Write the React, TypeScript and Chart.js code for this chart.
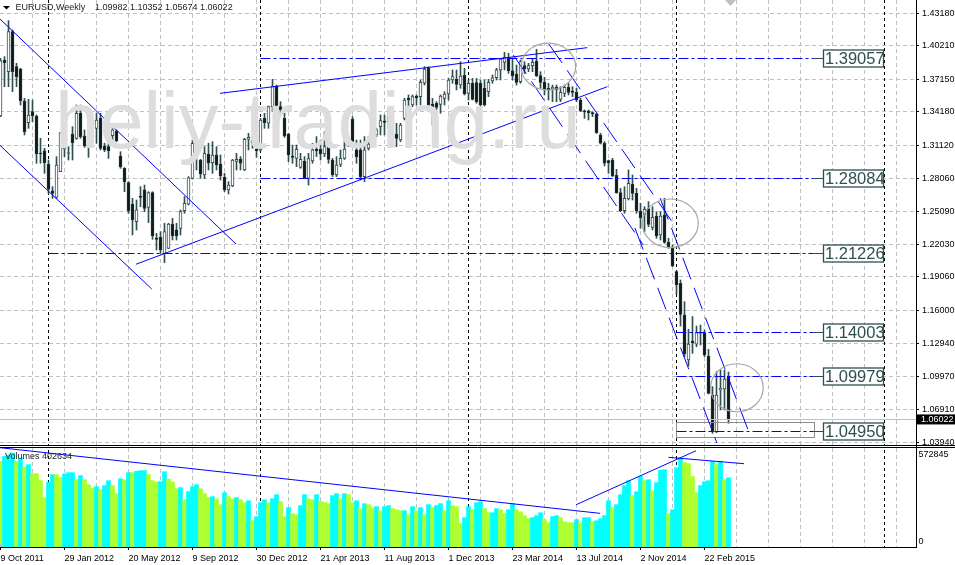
import React, { useEffect, useRef } from "react";
import Chart from "chart.js/auto";

const opens = [
  1.3379, 1.3891, 1.3784, 1.415, 1.383, 1.3809, 1.3516, 1.3318, 1.3418, 1.3379,
  1.304, 1.3061, 1.2939, 1.2695, 1.2634, 1.2869, 1.3077, 1.3037, 1.3211, 1.3174,
  1.3403, 1.3196, 1.3098, 1.319, 1.3266, 1.3357, 1.3104, 1.3098, 1.3199, 1.3241,
  1.3013, 1.29, 1.2769, 1.2573, 1.2412, 1.2647, 1.2702, 1.2543, 1.2677, 1.2262,
  1.2268, 1.2122, 1.2168, 1.239, 1.2336, 1.2351, 1.2512, 1.2573, 1.2808, 1.3043,
  1.2976, 1.2839, 1.3028, 1.2952, 1.3022, 1.2939, 1.2817, 1.2702, 1.2738, 1.2964,
  1.2985, 1.2885, 1.3165, 1.3159, 1.3074, 1.3068, 1.3357, 1.3312, 1.3464, 1.3653,
  1.3464, 1.3357, 1.3211, 1.3013, 1.2991, 1.2909, 1.2964, 1.2808, 1.2967, 1.3074,
  1.3074, 1.3031, 1.3098, 1.2976, 1.2839, 1.2936, 1.2991, 1.3129, 1.3348, 1.3068,
  1.3068, 1.2824, 1.3083, 1.3144, 1.3205, 1.3281, 1.3333, 1.3327, 1.3342, 1.3214,
  1.3159, 1.3357, 1.354, 1.3479, 1.3559, 1.3556, 1.3678, 1.3815, 1.3485, 1.3495,
  1.3485, 1.354, 1.358, 1.3708, 1.3717, 1.3662, 1.3751, 1.3586, 1.3678, 1.3684,
  1.3678, 1.3632, 1.3601, 1.3699, 1.3729, 1.38, 1.387, 1.3915, 1.3793, 1.3763,
  1.3693, 1.3839, 1.3809, 1.3839, 1.3882, 1.3748, 1.3687, 1.3632, 1.3626, 1.3641,
  1.3531, 1.3586, 1.3641, 1.3607, 1.3595, 1.3525, 1.3427, 1.3424, 1.3409, 1.3397,
  1.3205, 1.3129, 1.297, 1.2976, 1.2836, 1.2677, 1.2512, 1.2619, 1.2753, 1.2671,
  1.2509, 1.2479, 1.2531, 1.236, 1.2464, 1.229, 1.2473, 1.2223, 1.2168, 1.1954,
  1.1848, 1.1558, 1.1146, 1.132, 1.1292, 1.139, 1.139, 1.1183, 1.0826, 1.049,
  1.0872, 1.0881, 1.09982,
];
const highs = [
  1.3906, 1.3922, 1.4251, 1.4166, 1.3861, 1.3815, 1.354, 1.3531, 1.3525, 1.3388,
  1.3174, 1.3083, 1.2976, 1.2732, 1.3007, 1.3226, 1.322, 1.3098, 1.3281, 1.3479,
  1.3479, 1.3251, 1.3174, 1.3251, 1.3403, 1.3403, 1.3129, 1.3159, 1.3266, 1.3251,
  1.3052, 1.2906, 1.2778, 1.2625, 1.261, 1.2732, 1.2747, 1.2686, 1.2686, 1.2305,
  1.232, 1.2397, 1.2397, 1.2442, 1.2397, 1.2519, 1.2641, 1.2824, 1.3159, 1.3098,
  1.2982, 1.3098, 1.3129, 1.3144, 1.3098, 1.3022, 1.2854, 1.2778, 1.2982, 1.3037,
  1.3007, 1.3174, 1.322, 1.3174, 1.3159, 1.3357, 1.3403, 1.347, 1.3714, 1.3662,
  1.351, 1.3403, 1.322, 1.3113, 1.3113, 1.3037, 1.3007, 1.3037, 1.3129, 1.319,
  1.3159, 1.3235, 1.3205, 1.2991, 1.3007, 1.3068, 1.3159, 1.3159, 1.3373, 1.3159,
  1.3159, 1.319, 1.319, 1.3205, 1.3266, 1.3388, 1.3388, 1.3449, 1.3373, 1.3312,
  1.3312, 1.354, 1.3571, 1.3571, 1.3571, 1.3708, 1.383, 1.383, 1.354, 1.351,
  1.3571, 1.3601, 1.3723, 1.38, 1.38, 1.3876, 1.3815, 1.3708, 1.3723, 1.3723,
  1.3708, 1.3708, 1.3714, 1.3754, 1.3815, 1.3906, 1.3961, 1.3952, 1.3906, 1.3845,
  1.3891, 1.3876, 1.3861, 1.3906, 1.3989, 1.3784, 1.3732, 1.3678, 1.3662, 1.3662,
  1.3647, 1.3662, 1.3678, 1.3647, 1.3632, 1.354, 1.3434, 1.3434, 1.3418, 1.3403,
  1.322, 1.3144, 1.2976, 1.2991, 1.2891, 1.2717, 1.2732, 1.2885, 1.2839, 1.2717,
  1.258, 1.2549, 1.2595, 1.2549, 1.2503, 1.2503, 1.2625, 1.2259, 1.2198, 1.1963,
  1.1878, 1.168, 1.1427, 1.1543, 1.1457, 1.1466, 1.142, 1.1244, 1.0902, 1.1039,
  1.1055, 1.1055, 1.10352,
];
const lows = [
  1.3373, 1.3647, 1.3647, 1.3601, 1.3647, 1.3479, 1.3205, 1.3266, 1.3327, 1.2946,
  1.2946, 1.2854, 1.2671, 1.2625, 1.2625, 1.2869, 1.3007, 1.2976, 1.2976, 1.3165,
  1.3174, 1.3092, 1.3, 1.3129, 1.3129, 1.3068, 1.3052, 1.2991, 1.3144, 1.3144,
  1.29, 1.2686, 1.2488, 1.229, 1.2336, 1.2549, 1.2503, 1.2403, 1.225, 1.2153,
  1.2122, 1.2037, 1.2168, 1.2244, 1.2244, 1.229, 1.2488, 1.2564, 1.2802, 1.2885,
  1.2808, 1.2808, 1.2885, 1.2854, 1.2885, 1.2793, 1.2686, 1.2665, 1.2732, 1.2885,
  1.2885, 1.2878, 1.3068, 1.3083, 1.3, 1.3052, 1.3266, 1.3266, 1.3418, 1.3418,
  1.3403, 1.3183, 1.2961, 1.2946, 1.2915, 1.29, 1.2808, 1.2747, 1.2946, 1.3007,
  1.2976, 1.3007, 1.2946, 1.2824, 1.2824, 1.2915, 1.2982, 1.3098, 1.3098, 1.2946,
  1.2793, 1.2778, 1.3068, 1.3098, 1.319, 1.3205, 1.3205, 1.3266, 1.322, 1.3098,
  1.3144, 1.3342, 1.3464, 1.3464, 1.3479, 1.3479, 1.3662, 1.3464, 1.3296, 1.3434,
  1.3403, 1.3479, 1.3525, 1.3678, 1.3617, 1.3632, 1.3571, 1.3525, 1.3525, 1.3495,
  1.347, 1.347, 1.3556, 1.3678, 1.3708, 1.3708, 1.38, 1.3769, 1.3708, 1.3662,
  1.3678, 1.3769, 1.3784, 1.3784, 1.3739, 1.3632, 1.3571, 1.3525, 1.351, 1.351,
  1.351, 1.3556, 1.3571, 1.3556, 1.351, 1.3418, 1.3357, 1.3342, 1.3373, 1.322,
  1.3122, 1.2921, 1.2854, 1.2824, 1.2671, 1.2503, 1.2488, 1.261, 1.261, 1.2488,
  1.2351, 1.232, 1.2366, 1.2336, 1.2259, 1.2244, 1.2214, 1.2168, 1.2, 1.175,
  1.1457, 1.1177, 1.1091, 1.1207, 1.1268, 1.1283, 1.1177, 1.0835, 1.0475, 1.0481,
  1.0689, 1.0689, 1.05674,
];
const closes = [
  1.3885, 1.3867, 1.415, 1.3784, 1.3739, 1.3519, 1.3235, 1.3388, 1.3382, 1.3031,
  1.3034, 1.2952, 1.2708, 1.2671, 1.293, 1.3226, 1.3086, 1.3043, 1.3135, 1.3403,
  1.319, 1.3104, 1.3092, 1.3205, 1.3342, 1.3083, 1.3068, 1.3061, 1.3251, 1.3153,
  1.2915, 1.2778, 1.2512, 1.2427, 1.2519, 1.2634, 1.2534, 1.2677, 1.2281, 1.225,
  1.2153, 1.232, 1.239, 1.2284, 1.2281, 1.2503, 1.258, 1.2814, 1.3129, 1.3031,
  1.2848, 1.3037, 1.2946, 1.3022, 1.293, 1.283, 1.2702, 1.2747, 1.2976, 1.2982,
  1.2946, 1.3165, 1.3183, 1.3129, 1.3061, 1.3342, 1.3318, 1.3464, 1.3653, 1.3464,
  1.3434, 1.3196, 1.3022, 1.3, 1.3074, 1.2982, 1.2814, 1.2988, 1.3068, 1.3061,
  1.3031, 1.3098, 1.2982, 1.2839, 1.293, 1.2991, 1.3077, 1.3144, 1.3144, 1.3007,
  1.2824, 1.3068, 1.3122, 1.319, 1.3251, 1.3336, 1.3321, 1.3373, 1.3305, 1.3174,
  1.3296, 1.3525, 1.3528, 1.3556, 1.3546, 1.3687, 1.3809, 1.3479, 1.3464, 1.3458,
  1.3562, 1.358, 1.3708, 1.3739, 1.3668, 1.3745, 1.358, 1.3678, 1.3531, 1.351,
  1.3479, 1.3479, 1.3687, 1.3729, 1.38, 1.39, 1.3915, 1.3793, 1.3745, 1.3687,
  1.3876, 1.3809, 1.3839, 1.387, 1.3748, 1.3687, 1.3623, 1.3617, 1.3641, 1.3617,
  1.3595, 1.3641, 1.3595, 1.3595, 1.3525, 1.3427, 1.3415, 1.3409, 1.3397, 1.3226,
  1.3129, 1.2946, 1.2952, 1.283, 1.2677, 1.2512, 1.2625, 1.2763, 1.2671, 1.2512,
  1.2448, 1.2525, 1.2387, 1.2451, 1.2281, 1.2464, 1.2223, 1.2177, 1.2006, 1.1832,
  1.1564, 1.1201, 1.1292, 1.1305, 1.1396, 1.1399, 1.1192, 1.0841, 1.049, 1.0826,
  1.0887, 1.0972, 1.06022,
];

const volumes = [
  522000, 552000, 560000, 572845, 522000, 542000, 487000, 502000, 447000, 447000,
  404000, 299000, 394000, 441000, 441000, 424000, 445000, 453000, 453000, 410000,
  435000, 410000, 380000, 359000, 368000, 349000, 374000, 404000, 374000, 325000,
  416000, 410000, 453000, 453000, 461000, 465000, 465000, 441000, 404000, 396000,
  398000, 459000, 414000, 396000, 355000, 362000, 288000, 337000, 368000, 380000,
  355000, 325000, 301000, 307000, 294000, 258000, 331000, 307000, 294000, 301000,
  288000, 270000, 282000, 160000, 185000, 270000, 288000, 270000, 294000, 319000,
  276000, 185000, 240000, 203000, 197000, 252000, 319000, 294000, 288000, 319000,
  278000, 272000, 264000, 313000, 325000, 294000, 325000, 319000, 270000, 282000,
  234000, 264000, 258000, 234000, 246000, 221000, 246000, 252000, 234000, 227000,
  221000, 221000, 197000, 246000, 221000, 240000, 197000, 258000, 240000, 252000,
  264000, 221000, 282000, 252000, 246000, 142000, 179000, 246000, 227000, 270000,
  276000, 234000, 209000, 209000, 234000, 227000, 203000, 227000, 264000, 227000,
  215000, 191000, 173000, 179000, 191000, 209000, 167000, 148000, 185000, 191000,
  179000, 154000, 148000, 148000, 167000, 148000, 179000, 179000, 154000, 160000,
  173000, 191000, 282000, 240000, 258000, 319000, 374000, 404000, 313000, 337000,
  431000, 404000, 410000, 343000, 392000, 467000, 471000, 203000, 227000, 483000,
  538000, 514000, 508000, 429000, 331000, 374000, 398000, 404000, 522000, 502000,
  522000, 410000, 422000,
];
// 1 = volume bar drawn as rising, 0 = falling
const volumeRising = [
  0, 1, 1, 1, 0, 1, 0, 1, 0, 0,
  0, 0, 1, 1, 0, 0, 1, 1, 1, 0,
  1, 0, 0, 0, 1, 0, 1, 1, 0, 0,
  1, 0, 1, 0, 1, 1, 1, 0, 0, 0,
  1, 1, 0, 0, 0, 1, 0, 1, 1, 1,
  0, 0, 0, 1, 0, 0, 1, 0, 0, 1,
  0, 0, 1, 0, 1, 1, 1, 0, 1, 1,
  0, 0, 1, 0, 0, 1, 1, 0, 0, 1,
  0, 0, 0, 1, 1, 0, 1, 0, 0, 1,
  0, 1, 0, 0, 1, 0, 1, 1, 0, 0,
  0, 1, 0, 1, 0, 1, 0, 1, 0, 1,
  1, 0, 1, 0, 0, 0, 1, 1, 0, 1,
  1, 0, 0, 1, 1, 0, 0, 1, 1, 0,
  0, 0, 0, 1, 1, 1, 0, 0, 1, 1,
  0, 0, 0, 0, 1, 0, 1, 1, 0, 1,
  1, 1, 1, 0, 1, 1, 1, 1, 0, 1,
  1, 0, 1, 0, 1, 1, 1, 0, 1, 1,
  1, 0, 0, 0, 0, 1, 1, 1, 1, 0,
  1, 0, 1,
];

const dateLabels = [
  "9 Oct 2011", "29 Jan 2012", "20 May 2012", "9 Sep 2012", "30 Dec 2012", "21 Apr 2013",
  "11 Aug 2013", "1 Dec 2013", "23 Mar 2014", "13 Jul 2014", "2 Nov 2014", "22 Feb 2015",
];
const BARS_PER_LABEL = 16;
const gridBars = Array.from({ length: 29 }, (_, k) => k * 8);
const periodBars = [12, 65, 117, 169, 221];

const priceTicks = [
  1.4318, 1.4021, 1.3715, 1.3418, 1.3112, 1.2806, 1.2509, 1.2203, 1.1906, 1.16, 1.1294, 1.0997,
  1.0691, 1.0394,
];
const lastPrice = 1.06022;
const volumeMaxLabel = 572845;

// horizontal levels, their first bar and the label at their end
const levelPrices = [1.39057, 1.28084, 1.21226, 1.14003, 1.09979, 1.0495];
const levelStartBars = [65, 65, 12, 169, 169, 169];
const LEVEL_END_BAR = 203.1;

// [bar, price, bar, price]
const solidTrends = [
  [-0.125, 1.4266, 58.875, 1.2207],
  [-0.125, 1.311, 37.8, 1.1796],
  [54.875, 1.3586, 146.7, 1.4004],
  [33.875, 1.2022, 151.7, 1.3647],
];
const dashedTrends = [
  [137.1, 1.4037, 169.05, 1.2351],
  [128.2, 1.3937, 160.7, 1.2198],
  [164.9, 1.2628, 187, 1.0496],
  [158.6, 1.2354, 179.1, 1.0387],
];
// [bar, volume, bar, volume]
const volumeTrends = [
  [-0.125, 605000, 149.9, 205000],
  [143.9, 257700, 173.9, 586800],
  [167, 546500, 185.9, 507500],
];
const zoneBars = [169, 203.5];
const zonePrices = [1.0572, 1.0439];
// centre bar, centre price, radius x, radius y
const circles = [
  [136.95, 1.383, 27.3, 23.5],
  [167.45, 1.2397, 28, 24.3],
  [184.1, 1.0892, 26.3, 24],
];

const SLATE = "#2f4f4f";
const BLUE = "#0000ff";
const AXIS_FONT = { family: "'Liberation Sans', sans-serif", size: 9 };

const candleBars = opens.map((_, i) => i);
const isBull = (i: number) => closes[i] >= opens[i];

const line = (points: number[], yAxisID: string, color: string, dash: number[], width = 1, snap = false) => ({
  type: "line" as const,
  data: [
    { x: points[0], y: points[1] },
    { x: points[2], y: points[3] },
  ],
  yAxisID,
  borderColor: color,
  borderWidth: width,
  borderDash: dash,
  pointRadius: 0,
  order: 1,
  snap,
});

// no room reserved for half labels, the panes start at the canvas edge
const fitPane = (s: any) => {
  s.width = 39;
  s.paddingTop = 0;
  s.paddingBottom = 0;
};

const panelPlugin = {
  id: "panelPlugin",
  // keep the flat lines on a single pixel row
  afterDatasetsUpdate(chart: any) {
    chart.data.datasets.forEach((ds: any, i: number) => {
      if (!ds.snap) return;
      chart.getDatasetMeta(i).data.forEach((pt: any) => {
        pt.y = Math.floor(pt.y) + 0.5;
      });
    });
  },
  beforeDatasetsDraw(chart: any) {
    const { ctx, chartArea, scales } = chart;
    ctx.save();
    ctx.strokeStyle = "#000";
    ctx.lineWidth = 1;
    ctx.setLineDash([3, 3]);
    periodBars.forEach((b) => {
      const x = scales.x.getPixelForValue(b);
      ctx.beginPath();
      ctx.moveTo(x, chartArea.top);
      ctx.lineTo(x, chartArea.bottom);
      ctx.stroke();
    });
    ctx.restore();
  },
  afterDatasetsDraw(chart: any) {
    const { ctx, scales } = chart;
    const yp = scales.yPrice;
    const x = scales.x;
    ctx.save();

    // circles
    ctx.strokeStyle = "#a6a6a6";
    ctx.lineWidth = 1.2;
    circles.forEach(([b, p, rx, ry]) => {
      ctx.beginPath();
      ctx.ellipse(x.getPixelForValue(b), yp.getPixelForValue(p), rx, ry, 0, 0, Math.PI * 2);
      ctx.stroke();
    });

    // watermark sits over candles and trend lines
    ctx.fillStyle = "#dddddd";
    ctx.font = "79.5px 'Liberation Sans', sans-serif";
    ctx.textAlign = "left";
    ctx.textBaseline = "alphabetic";
    ctx.fillText("heliy-trading.ru", 55, 148);

    // level labels
    levelPrices.forEach((p) => {
      const y = Math.floor(yp.getPixelForValue(p)) + 0.5;
      ctx.strokeStyle = SLATE;
      ctx.lineWidth = 1;
      ctx.beginPath();
      ctx.moveTo(813, y);
      ctx.lineTo(823, y);
      ctx.stroke();
      ctx.fillStyle = "#fff";
      ctx.fillRect(823.5, y - 8.5, 60, 17);
      ctx.lineWidth = 1.3;
      ctx.strokeRect(823.5, y - 8.5, 60, 17);
      ctx.fillStyle = SLATE;
      ctx.font = "16.5px 'Liberation Sans', sans-serif";
      ctx.textBaseline = "middle";
      ctx.fillText(p.toFixed(5), 825, y + 1);
    });

    // separators between the panes
    ctx.fillStyle = "#fff";
    ctx.fillRect(0, 445, 916, 3);
    ctx.strokeStyle = "#000";
    ctx.lineWidth = 1;
    ctx.beginPath();
    ctx.moveTo(0, 445.5);
    ctx.lineTo(955, 445.5);
    ctx.moveTo(0, 447.5);
    ctx.lineTo(955, 447.5);
    ctx.stroke();

    // last price box
    const ly = yp.getPixelForValue(lastPrice);
    ctx.fillStyle = "#000";
    ctx.fillRect(917, ly - 5, 38, 10);
    ctx.fillStyle = "#fff";
    ctx.font = "9px 'Liberation Sans', sans-serif";
    ctx.textBaseline = "middle";
    ctx.fillText(lastPrice.toFixed(5), 921, ly + 0.5);

    // header and pane captions
    ctx.fillStyle = "#000";
    ctx.beginPath();
    ctx.moveTo(3, 6);
    ctx.lineTo(10, 6);
    ctx.lineTo(6.5, 9.5);
    ctx.closePath();
    ctx.fill();
    ctx.fillStyle = "#222";
    ctx.fillText("EURUSD,Weekly", 15.5, 8);
    ctx.fillText(
      `${opens[opens.length - 1].toFixed(5)} ${highs[highs.length - 1].toFixed(5)} ${lows[lows.length - 1].toFixed(5)} ${closes[closes.length - 1].toFixed(5)}`,
      95,
      8,
    );
    ctx.fillText("Volumes 402634", 5, 457);
    ctx.fillStyle = "#000";
    ctx.fillText(String(volumeMaxLabel), 918.5, 455);
    ctx.fillText("0", 918.5, 541.5);

    // small chart markers
    ctx.fillStyle = "#c0c0c0";
    ctx.beginPath();
    ctx.moveTo(725, 0);
    ctx.lineTo(736, 0);
    ctx.lineTo(730.5, 6);
    ctx.closePath();
    ctx.fill();
    ctx.beginPath();
    ctx.moveTo(0, 547);
    ctx.lineTo(4, 547);
    ctx.lineTo(0, 543);
    ctx.closePath();
    ctx.fill();
    ctx.restore();
  },
};

export default function App() {
  const canvasRef = useRef<HTMLCanvasElement>(null);

  useEffect(() => {
    if (!canvasRef.current) return;
    const chart = new Chart(canvasRef.current, {
      type: "bar",
      data: {
        datasets: [
          ...solidTrends.map((t) => line(t, "yPrice", BLUE, [])),
          ...dashedTrends.map((t) => line(t, "yPrice", BLUE, [23, 9])),
          ...levelPrices.map((p, i) =>
            line([levelStartBars[i], p, LEVEL_END_BAR, p], "yPrice", BLUE, [10, 3, 3, 3], 1, true),
          ),
          line([-0.125, lastPrice, 228.875, lastPrice], "yPrice", "#c0c0c0", [], 1, true),
          {
            type: "line" as const,
            data: [
              { x: zoneBars[0], y: zonePrices[0] },
              { x: zoneBars[1], y: zonePrices[0] },
              { x: zoneBars[1], y: zonePrices[1] },
              { x: zoneBars[0], y: zonePrices[1] },
              { x: zoneBars[0], y: zonePrices[0] },
            ],
            yAxisID: "yPrice",
            borderColor: "#8c8c8c",
            borderWidth: 1,
            pointRadius: 0,
            order: 1,
            snap: true,
          },
          ...volumeTrends.map((t) => line(t, "yVol", BLUE, [], 1)),
          {
            label: "Bodies",
            data: candleBars.map((i) => ({ x: i, y: [opens[i], closes[i]] })),
            yAxisID: "yPrice",
            barThickness: 3,
            grouped: false,
            borderSkipped: false,
            borderWidth: 1,
            borderColor: candleBars.map((i) => (isBull(i) ? SLATE : "#1c3030")),
            backgroundColor: candleBars.map((i) => (isBull(i) ? "#ffffff" : "#0f1a1a")),
            order: 2,
          },
          {
            label: "Wicks",
            data: candleBars.map((i) => ({ x: i, y: [lows[i], highs[i]] })),
            yAxisID: "yPrice",
            barThickness: 1,
            grouped: false,
            backgroundColor: SLATE,
            order: 3,
          },
          {
            label: "Volumes",
            data: candleBars.map((i) => ({ x: i, y: volumes[i] })),
            yAxisID: "yVol",
            barThickness: 4,
            grouped: false,
            backgroundColor: candleBars.map((i) => (volumeRising[i] ? "#00ffff" : "#adff2f")),
            order: 4,
          },
        ] as any,
      },
      options: {
        responsive: false,
        animation: false,
        devicePixelRatio: 1,
        layout: { padding: 0 },
        plugins: { legend: { display: false }, tooltip: { enabled: false } },
        scales: {
          x: {
            type: "linear",
            offset: false,
            min: -0.125,
            max: 228.875,
            afterBuildTicks: (s: any) => {
              s.ticks = gridBars.map((v) => ({ value: v }));
            },
            afterFit: (s: any) => {
              s.height = 18;
              s.paddingLeft = 0;
              s.paddingRight = 0;
            },
            border: { display: true, color: "#000", dash: [4, 3] },
            grid: {
              offset: false,
              color: (c: any) => (c.index === 0 ? "transparent" : "#c0c0c0"),
              tickColor: (c: any) => (c.index % 2 === 0 && c.index < 24 ? "#000" : "transparent"),
              tickLength: 3,
            },
            ticks: {
              autoSkip: false,
              maxRotation: 0,
              minRotation: 0,
              align: "start",
              padding: 3,
              color: "#000",
              font: AXIS_FONT,
              callback: (v: any) => dateLabels[v / BARS_PER_LABEL] ?? "",
            },
          },
          yPrice: {
            type: "linear",
            position: "right",
            stack: "panes",
            stackWeight: 447,
            min: 1.035,
            max: 1.444,
            afterBuildTicks: (s: any) => {
              s.ticks = priceTicks.map((v) => ({ value: v }));
            },
            afterFit: fitPane,
            border: { display: true, color: "#000", dash: [4, 3] },
            grid: { color: "#c0c0c0", tickColor: "#000", tickLength: 3 },
            ticks: {
              padding: 3,
              color: "#000",
              font: AXIS_FONT,
              callback: (v: any) => Number(v).toFixed(5),
            },
          },
          yVol: {
            type: "linear",
            position: "right",
            stack: "panes",
            stackWeight: 100,
            min: 0,
            max: 609300,
            afterFit: fitPane,
            border: { display: true, color: "#000" },
            grid: { display: false },
            ticks: { display: false },
          },
        },
      } as any,
      plugins: [panelPlugin],
    });
    return () => chart.destroy();
  }, []);

  return (
    <div style={{ position: "absolute", left: 0, top: 0, width: 955, height: 565 }}>
      <canvas ref={canvasRef} width={955} height={565} style={{ display: "block" }} />
    </div>
  );
}
